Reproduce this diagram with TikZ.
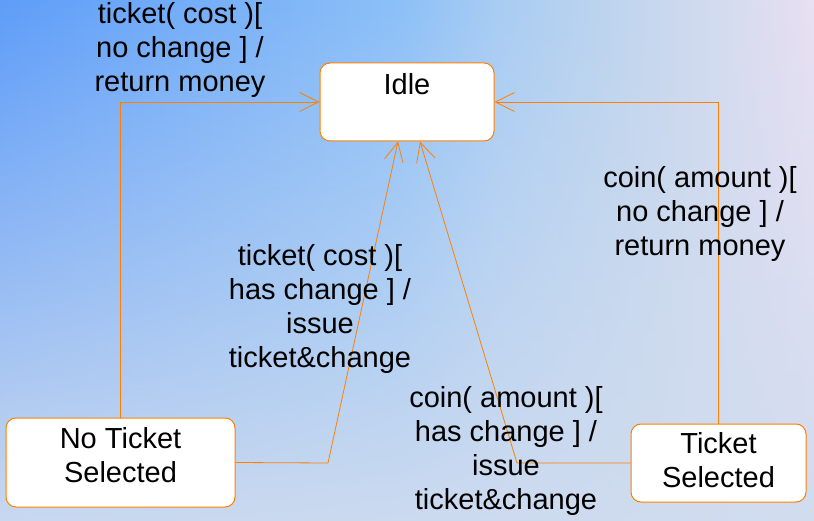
\documentclass[tikz,border=0pt]{standalone}
\usepackage{fontspec}
\setmainfont{Liberation Sans}
\usetikzlibrary{arrows.meta,fadings}
\definecolor{edge}{HTML}{FF8000}
\definecolor{bgA}{HTML}{5E9DF9}
\definecolor{bgB}{HTML}{8CC0F8}
\definecolor{bgC}{HTML}{A8CCF4}
\definecolor{bgD}{HTML}{BCD4EE}
\definecolor{bgE}{HTML}{D0DAEE}
\definecolor{bgF}{HTML}{E9E0F3}
\definecolor{bgfog}{HTML}{D0DCEF}
\pgfdeclarehorizontalshading{skyshade}{100bp}{color(0bp)=(bgA); color(25bp)=(bgA); color(49.5bp)=(bgB); color(55.5bp)=(bgC); color(62bp)=(bgD); color(68bp)=(bgE); color(75bp)=(bgF); color(100bp)=(bgF)}
\tikzfading[name=fogdown, top color=transparent!100, middle color=transparent!68, bottom color=transparent!6]
\tikzstyle{state} = [draw=edge, fill=white, rounded corners=10pt, align=center, inner sep=2pt, line width=1pt, font=\fontsize{29}{34}\selectfont]
\tikzstyle{trans} = [draw=edge, line width=0.8pt, -{Straight Barb[length=19pt,width=19pt]}]
\tikzstyle{guard} = [align=center, inner sep=0pt, font=\fontsize{29}{34}\selectfont]

\begin{document}
\begin{tikzpicture}[x=1pt,y=-1pt]
\shade[shading=skyshade] (0,0) rectangle (814,521);
\fill[bgfog, path fading=fogdown] (0,0) rectangle (814,521);
\useasboundingbox (0,0) rectangle (814,521);

\node[state, minimum width=174pt, minimum height=78pt, inner ysep=6pt, text height=26pt, text depth=40pt] (idle) at (407,102) {Idle};
\node[state, minimum width=229pt, minimum height=89pt, text height=62pt, text depth=23pt] (noticket) at (120.5,462.5) {No Ticket\\Selected};
\node[state, minimum width=175pt, minimum height=78pt, text height=61pt, text depth=13pt] (ticketsel) at (718.5,463) {Ticket\\Selected};

\draw[trans] (noticket.north) |- (idle.west);
\draw[trans] (ticketsel.north) |- (idle.east);
\draw[trans] (noticket.east) -- (328,463) -- ([xshift=-9pt]idle.south);
\draw[trans] (ticketsel.west) -- (517,463) -- ([xshift=13pt]idle.south);

\node[guard] (guardA) at (180,50) {ticket( cost )[\\no change ] /\\return money};
\node[guard] (guardB) at (700,214) {coin( amount )[\\no change ] /\\return money};
\node[guard] (guardC) at (320,309) {ticket( cost )[\\has change ] /\\issue\\ticket\&change};
\node[guard] (guardD) at (506,451) {coin( amount )[\\has change ] /\\issue\\ticket\&change};
\end{tikzpicture}
\end{document}
